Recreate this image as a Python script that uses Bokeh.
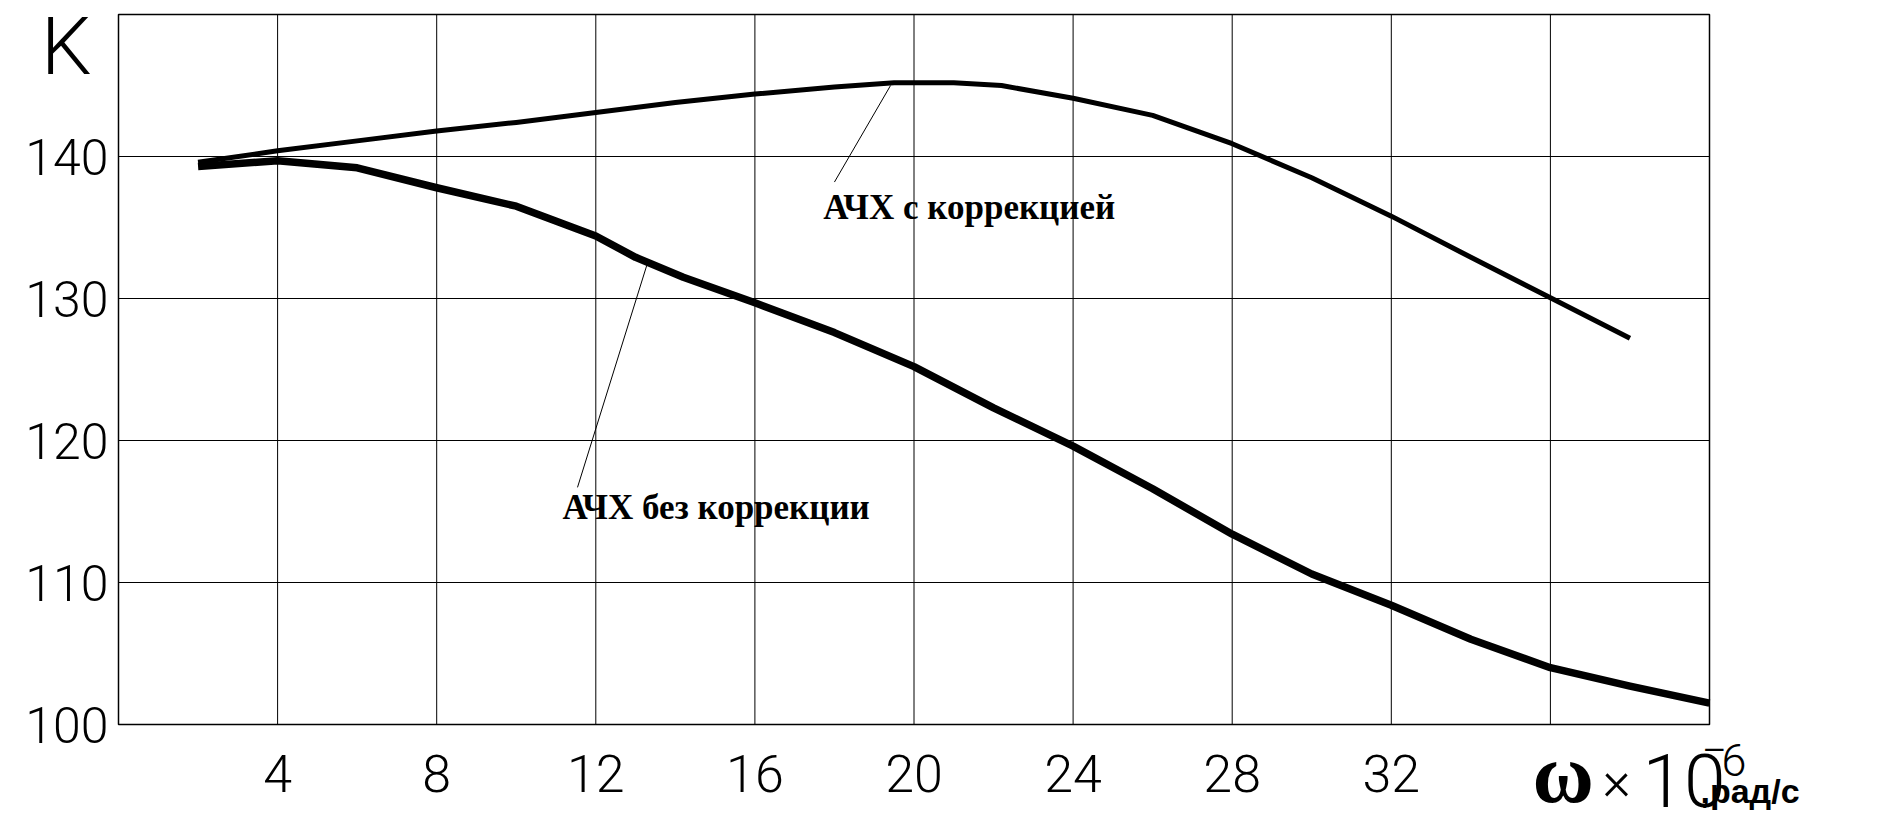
from bokeh.plotting import figure
from bokeh.models import Range1d, FixedTicker, Label, Arrow
from bokeh.embed import file_html
from bokeh.resources import INLINE

# ---- data ----
x_ticks = [4, 8, 12, 16, 20, 24, 28, 32, 36]
x_tick_labels = ["4", "8", "12", "16", "20", "24", "28", "32", ""]
y_ticks = [100, 110, 120, 130, 140]
y_tick_labels = ["100", "110", "120", "130", "140"]

w_corr = [2, 4, 6, 8, 10, 12, 14, 16, 18, 19.5, 21, 22.2, 24, 26, 28, 30, 32, 34, 36, 38]
k_corr = [139.6, 140.4, 141.1, 141.8, 142.4, 143.1, 143.8, 144.4, 144.9, 145.2,
          145.2, 145.0, 144.1, 142.9, 140.9, 138.5, 135.8, 132.9, 130.05, 127.2]

w_nocorr = [2, 4, 6, 8, 10, 12, 13, 14.2, 16, 18, 20, 22, 24, 26, 28, 30, 32, 34, 36, 38, 40]
k_nocorr = [139.3, 139.7, 139.2, 137.8, 136.5, 134.4, 132.9, 131.5, 129.7, 127.6, 125.2,
            122.3, 119.6, 116.6, 113.4, 110.6, 108.4, 106.0, 104.0, 102.7, 101.5]

label_corr = "АЧХ с коррекцией"
label_nocorr = "АЧХ без коррекции"
y_title = "K"

# axis domain
X_MIN, X_MAX = 0, 40
Y_MIN, Y_MAX = 100, 150

# ---- layout (pixels) ----
W, H = 1880, 827
BOX_L, BOX_T, BOX_W, BOX_H = 118, 14, 1591, 710
PX_X = BOX_W / (X_MAX - X_MIN)
PX_Y = BOX_H / (Y_MAX - Y_MIN)

THIN = "Roboto Light, Roboto"
SERIF = "Liberation Serif"
SANS = "Liberation Sans"

p = figure(width=W, height=H,
           min_border_left=0, min_border_right=0, min_border_top=0, min_border_bottom=0,
           x_range=Range1d(X_MIN - BOX_L / PX_X, X_MAX + (W - BOX_L - BOX_W) / PX_X),
           y_range=Range1d(Y_MIN - (H - BOX_T - BOX_H) / PX_Y, Y_MAX + BOX_T / PX_Y),
           output_backend="svg", toolbar_location=None)
p.title.visible = False
p.background_fill_color = "white"
p.border_fill_color = "white"
p.outline_line_color = None
p.xgrid.visible = False
p.ygrid.visible = False

for ax in (p.xaxis[0], p.yaxis[0]):
    ax.axis_line_color = None
    ax.major_tick_line_color = None
    ax.minor_tick_line_color = None
    ax.major_tick_out = 0
    ax.major_tick_in = 0
    ax.major_label_text_font = THIN
    ax.major_label_text_color = "black"

p.xaxis.fixed_location = Y_MIN
p.xaxis.ticker = FixedTicker(ticks=x_ticks)
p.xaxis.major_label_overrides = {t: s for t, s in zip(x_ticks, x_tick_labels)}
p.xaxis.major_label_text_font_size = "52px"
p.xaxis.major_label_standoff = 30

p.yaxis.fixed_location = X_MIN
p.yaxis.ticker = FixedTicker(ticks=y_ticks)
p.yaxis.major_label_overrides = {t: s for t, s in zip(y_ticks, y_tick_labels)}
p.yaxis.major_label_text_font_size = "50px"
p.yaxis.major_label_standoff = 10

# grid lines at the ticks, limited to the plotting box
gx = [t for t in x_ticks if X_MIN < t < X_MAX]
gy = [t for t in y_ticks if Y_MIN < t < Y_MAX]
p.segment(x0=gx, y0=[Y_MIN] * len(gx), x1=gx, y1=[Y_MAX] * len(gx),
          line_color="black", line_width=1)
p.segment(x0=[X_MIN] * len(gy), y0=gy, x1=[X_MAX] * len(gy), y1=gy,
          line_color="black", line_width=1)
# box
p.quad(left=[X_MIN], right=[X_MAX], bottom=[Y_MIN], top=[Y_MAX],
       fill_color=None, line_color="black", line_width=1.5)

p.line(w_corr, k_corr, line_color="black", line_width=5, line_join="round")
p.line(w_nocorr, k_nocorr, line_color="black", line_width=7.5, line_join="round")

# leader lines
p.add_layout(Arrow(end=None, x_start=19.41, y_start=145.0, x_end=18.0, y_end=138.2,
                   line_color="black", line_width=1))
p.add_layout(Arrow(end=None, x_start=13.3, y_start=132.5, x_end=11.54, y_end=116.7,
                   line_color="black", line_width=1))

p.add_layout(Label(x=17.72, y=136.38, text=label_corr, text_font=SERIF,
                   text_font_style="bold", text_font_size="35px", text_color="black",
                   text_baseline="alphabetic"))
p.add_layout(Label(x=11.16, y=115.26, text=label_nocorr, text_font=SERIF,
                   text_font_style="bold", text_font_size="35px", text_color="black",
                   text_baseline="alphabetic"))

# axis title "K"
p.add_layout(Label(x=X_MIN, y=Y_MAX, x_offset=-27, y_offset=-32, text=y_title,
                   text_font=THIN, text_font_size="80px", text_align="right",
                   text_baseline="alphabetic", text_color="black"))

# x axis title pieces: ω × 10^-6 ,рад/с
def piece(txt, dx, dy, font, size, style="normal"):
    p.add_layout(Label(x=X_MAX, y=Y_MIN, x_offset=dx, y_offset=dy, text=txt,
                       text_font=font, text_font_style=style, text_font_size=size,
                       text_baseline="alphabetic", text_color="black"))

piece("ω", -177, -49, SERIF, "84px", "bold")
piece("×", -107, -56, THIN, "54px")
piece("10", -67, -56, THIN, "75px")
piece("−", -8, -25, THIN, "45px")
piece("6", 12, -35, THIN, "45px")
piece(",рад/с", -9, -66, SANS, "34px", "bold")

open("out.html", "w").write(file_html(p, INLINE))
